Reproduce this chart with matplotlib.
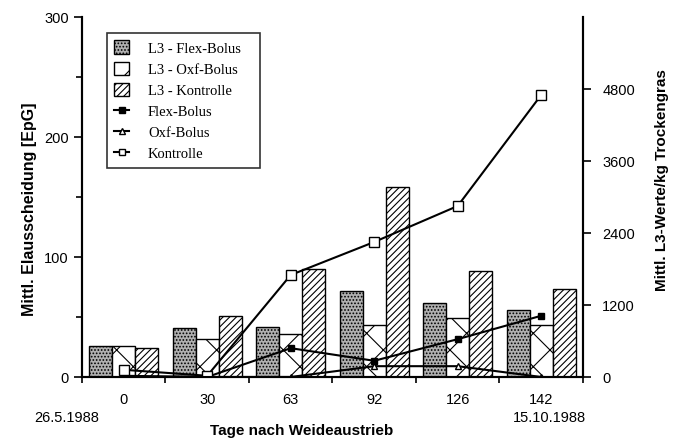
import numpy as np
import matplotlib.pyplot as plt
from matplotlib.lines import Line2D
from matplotlib.patches import Patch

plt.rcParams['font.family'] = ['Liberation Sans', 'DejaVu Sans']
plt.rcParams['hatch.linewidth'] = 0.8

# Daten
tage = ['0', '30', '63', '92', '126', '142']
l3_flex = [26, 41, 42, 72, 62, 56]
l3_oxf = [26, 32, 36, 43, 49, 43]
l3_kontrolle = [24, 51, 90, 158, 88, 73]

flex_bolus = [20, 0, 480, 270, 630, 1020]
oxf_bolus = [0, 0, 0, 180, 180, 0]
kontrolle = [120, 20, 1700, 2250, 2850, 4700]

x = np.arange(len(tage))
w = 0.275

fig = plt.figure(figsize=(6.76, 4.39), dpi=100)
ax = fig.add_axes([0.1213, 0.139, 0.741, 0.820])
ax2 = ax.twinx()

ax.bar(x - w, l3_flex, w, color='#b0b0b0', edgecolor='black', hatch='.....', lw=1)
ax.bar(x, l3_oxf, w, color='white', edgecolor='black', hatch='x', lw=1)
ax.bar(x + w, l3_kontrolle, w, color='white', edgecolor='black', hatch='/////', lw=1)

ax2.plot(x, flex_bolus, color='black', lw=1.5, marker='s', ms=5, mfc='black')
ax2.plot(x, oxf_bolus, color='black', lw=1.5, marker='^', ms=5, mfc='white')
ax2.plot(x, kontrolle, color='black', lw=1.5, marker='s', ms=6.5, mfc='white')

ax.set_xlim(-0.5, 5.5)
ax.set_ylim(0, 300)
ax2.set_ylim(0, 6000)

ax.set_yticks([0, 100, 200, 300])
ax.set_yticks([50, 150, 250], minor=True)
ax2.set_yticks([0, 1200, 2400, 3600, 4800])

ax.set_xticks(np.arange(-0.5, 5.6, 1))
ax.set_xticklabels([])
ax.set_xticks(x, minor=True)
ax.set_xticklabels(tage, minor=True)
ax.tick_params(axis='x', which='minor', length=0, pad=11, labelsize=10.5)
ax.tick_params(axis='x', which='major', length=4, width=1.2)
ax.tick_params(axis='y', which='major', length=6, width=1.2, labelsize=10.5)
ax.tick_params(axis='y', which='minor', length=4, width=1.2)
ax2.tick_params(axis='y', length=6, width=1.2, labelsize=10.5, pad=8)

for a in (ax, ax2):
    a.spines['top'].set_visible(False)
    for s in ('left', 'right', 'bottom'):
        a.spines[s].set_linewidth(1.5)

ax.set_ylabel('Mittl. Elausscheidung [EpG]', fontsize=11.5, fontweight='bold')
ax.yaxis.set_label_coords(-0.09, 0.47)
ax2.set_ylabel('Mittl. L3-Werte/kg Trockengras', fontsize=11, fontweight='bold')
ax2.yaxis.set_label_coords(1.143, 0.55)

fig.text(302 / 676, 1 - 431 / 439, 'Tage nach Weideaustrieb', ha='center', va='center',
         fontsize=11, fontweight='bold')
fig.text(67 / 676, 1 - 418 / 439, '26.5.1988', ha='center', va='center', fontsize=10.5)
fig.text(549 / 676, 1 - 418 / 439, '15.10.1988', ha='center', va='center', fontsize=10.5)

handles = [
    Patch(facecolor='#b0b0b0', edgecolor='black', hatch='.....'),
    Patch(facecolor='white', edgecolor='black', hatch='x'),
    Patch(facecolor='white', edgecolor='black', hatch='/////'),
    Line2D([], [], color='black', lw=1.5, marker='s', ms=4, mfc='black'),
    Line2D([], [], color='black', lw=1.5, marker='^', ms=4, mfc='white'),
    Line2D([], [], color='black', lw=1.5, marker='s', ms=5, mfc='white'),
]
labels = ['L3 - Flex-Bolus', 'L3 - Oxf-Bolus', 'L3 - Kontrolle',
          'Flex-Bolus', 'Oxf-Bolus', 'Kontrolle']
leg = ax.legend(handles, labels, loc='upper left',
                bbox_to_anchor=(0.05, 0.6, 0.305, 0.355), mode='expand',
                prop={'family': 'Liberation Serif', 'size': 10.5}, frameon=True,
                fancybox=False, edgecolor='black', handlelength=1.0,
                handleheight=1.0, labelspacing=0.45, borderpad=0.5,
                handletextpad=1.3, borderaxespad=0)
leg.get_frame().set_linewidth(1.2)

fig.savefig('out.png', dpi=100)
